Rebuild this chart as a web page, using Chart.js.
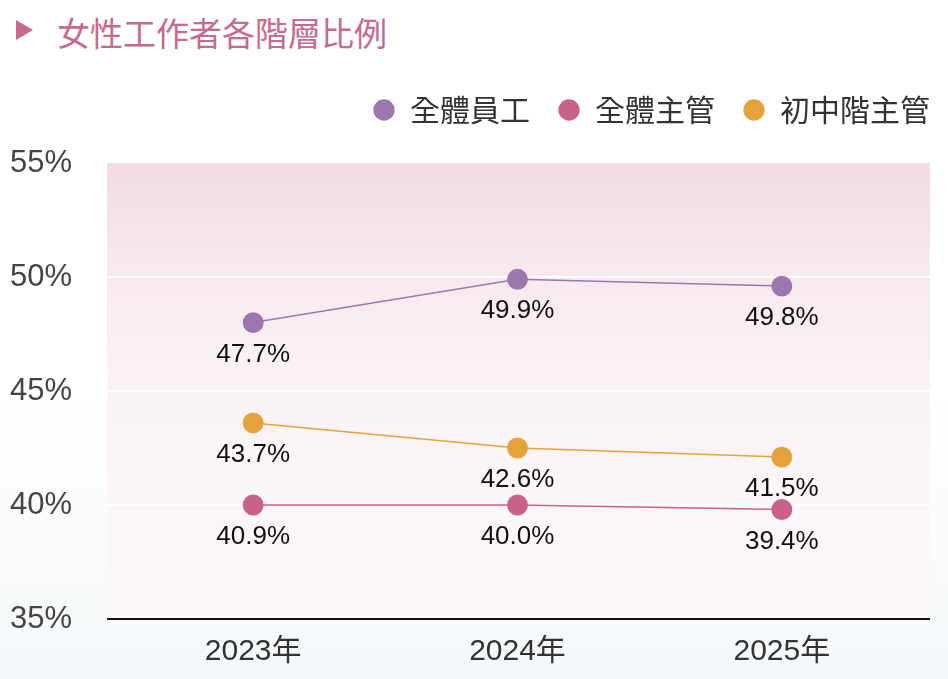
<!DOCTYPE html>
<html lang="zh-Hant">
<head>
<meta charset="utf-8">
<title>女性工作者各階層比例</title>
<script src="https://cdn.jsdelivr.net/npm/chart.js@4.4.1/dist/chart.umd.min.js"></script>
<style>
  html, body { margin: 0; padding: 0; }
  body {
    width: 948px; height: 679px; overflow: hidden; position: relative;
    background: linear-gradient(#ffffff 55%, #f5f8fa);
    font-family: "Noto Sans CJK TC", sans-serif;
  }
  #title { position: absolute; left: 57px; top: 12px; font-size: 33px; line-height: 40px; color: #c8698f; }
  #arrow {
    position: absolute; left: 16px; top: 20px; width: 0; height: 0;
    border-left: 17px solid #c8698f; border-top: 10.5px solid transparent; border-bottom: 10.5px solid transparent;
  }
  #wrap { position: absolute; left: 0; top: 0; width: 948px; height: 679px; }
</style>
</head>
<body>
<div id="arrow"></div>
<div id="title">女性工作者各階層比例</div>
<div id="wrap"><canvas id="chart"></canvas></div>

<script>
// Data
const years = ['2023年', '2024年', '2025年'];
const seriesNames = ['全體員工', '全體主管', '初中階主管'];

// plotted positions
const allStaff = [48.0, 49.9, 49.6];
const allManagers = [40.0, 40.0, 39.8];
const juniorManagers = [43.6, 42.5, 42.1];

// printed labels under each point
const allStaffLabels = ['47.7%', '49.9%', '49.8%'];
const allManagersLabels = ['40.9%', '40.0%', '39.4%'];
const juniorManagersLabels = ['43.7%', '42.6%', '41.5%'];

const yTicks = [35, 40, 45, 50, 55];

const colors = ['#9b77ae', '#c8628a', '#e6a23a'];
const numFont = '"Liberation Sans", Arial, "Noto Sans CJK TC", sans-serif';

// Pink gradient panel, white grid lines, black base line
const plotBackground = {
  id: 'plotBackground',
  beforeDatasetsDraw(chart) {
    const { ctx, chartArea: a, scales: { y } } = chart;
    const left = a.left - 14;
    const right = a.right + 16;
    const g = ctx.createLinearGradient(0, a.top, 0, a.bottom);
    g.addColorStop(0, '#f2dbe4');
    g.addColorStop(0.25, '#f7eaef');
    g.addColorStop(0.5, '#faf3f6');
    g.addColorStop(1, '#fcf9fa');
    ctx.save();
    ctx.fillStyle = g;
    ctx.fillRect(left, a.top, right - left, a.bottom - a.top);

    ctx.strokeStyle = '#ffffff';
    ctx.lineWidth = 2;
    yTicks.forEach(v => {
      if (v <= y.min || v >= y.max) return;
      const py = Math.round(y.getPixelForValue(v));
      ctx.beginPath();
      ctx.moveTo(left, py);
      ctx.lineTo(right, py);
      ctx.stroke();
    });

    ctx.strokeStyle = '#111111';
    ctx.lineWidth = 2;
    ctx.beginPath();
    ctx.moveTo(left, a.bottom);
    ctx.lineTo(right, a.bottom);
    ctx.stroke();
    ctx.restore();
  }
};

// Value text under each point
const valueLabels = {
  id: 'valueLabels',
  afterDatasetsDraw(chart) {
    const { ctx } = chart;
    ctx.save();
    ctx.font = '26px ' + numFont;
    ctx.fillStyle = '#111111';
    ctx.textAlign = 'center';
    ctx.textBaseline = 'middle';
    chart.data.datasets.forEach((ds, i) => {
      chart.getDatasetMeta(i).data.forEach((pt, j) => {
        ctx.fillText(ds.valueLabels[j], pt.x, pt.y + 32);
      });
    });
    ctx.restore();
  }
};

// extra room between legend and plot, and push legend to the right edge
const legendTweak = {
  id: 'legendTweak',
  beforeInit(chart) {
    const legend = chart.legend;
    const fit = legend.fit;
    legend.fit = function () {
      fit.call(legend);
      this.height += 28;
    };
    const draw = legend.draw;
    legend.draw = function () {
      chart.ctx.save();
      chart.ctx.translate(28, 0);
      draw.call(legend);
      chart.ctx.restore();
    };
  }
};

function makeDataset(label, data, texts, color) {
  return {
    label,
    data,
    valueLabels: texts,
    borderColor: color,
    backgroundColor: color,
    pointBackgroundColor: color,
    pointBorderColor: color,
    borderWidth: 1.5,
    pointRadius: 9.7,
    pointHoverRadius: 9.7,
    tension: 0
  };
}

new Chart(document.getElementById('chart'), {
  type: 'line',
  data: {
    labels: years,
    datasets: [
      makeDataset(seriesNames[0], allStaff, allStaffLabels, colors[0]),
      makeDataset(seriesNames[1], allManagers, allManagersLabels, colors[1]),
      makeDataset(seriesNames[2], juniorManagers, juniorManagersLabels, colors[2])
    ]
  },
  options: {
    responsive: true,
    maintainAspectRatio: false,
    animation: false,
    layout: { padding: { top: 67, left: 10, right: 18, bottom: 0 } },
    plugins: {
      legend: {
        position: 'top',
        align: 'end',
        labels: {
          usePointStyle: true,
          pointStyle: 'circle',
          boxWidth: 22,
          boxHeight: 14,
          padding: 28,
          color: '#333333',
          font: { family: '"Noto Sans CJK TC", sans-serif', size: 30 }
        }
      },
      tooltip: { enabled: false }
    },
    scales: {
      x: {
        offset: true,
        grid: { display: false, drawTicks: false },
        border: { display: false },
        ticks: { color: '#333333', padding: 15, font: { family: numFont, size: 30 } },
        afterFit(s) { s.height = 60; }
      },
      y: {
        min: 35,
        max: 55,
        grid: { display: false, drawTicks: false },
        border: { display: false },
        afterBuildTicks(s) { s.ticks = yTicks.map(v => ({ value: v })); },
        ticks: {
          crossAlign: 'far',
          color: '#444444',
          font: { family: numFont, size: 31 },
          callback: v => v + '%'
        },
        afterFit(s) { s.width = 111; }
      },
      y2: {
        position: 'right',
        grid: { display: false, drawTicks: false },
        border: { display: false },
        ticks: { display: false },
        afterFit(s) { s.width = 16; }
      }
    }
  },
  plugins: [plotBackground, valueLabels, legendTweak]
});
</script>
</body>
</html>
